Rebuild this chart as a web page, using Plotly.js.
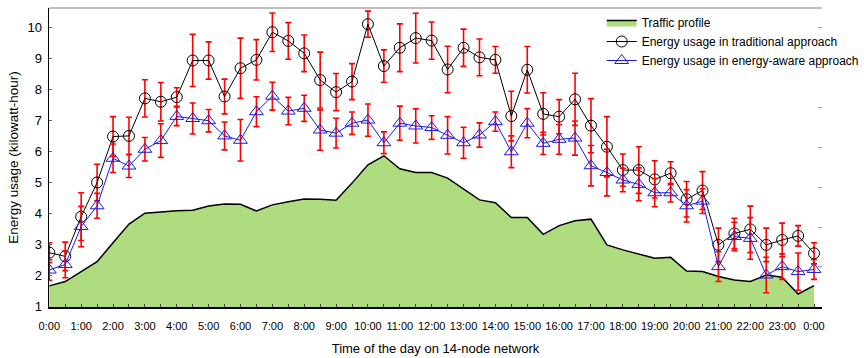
<!DOCTYPE html>
<html>
<head>
<meta charset="utf-8">
<script src="https://cdn.plot.ly/plotly-3.0.1.min.js"></script>
<style>html,body{margin:0;padding:0;background:#fff;}#chart{width:864px;height:358px;}</style>
</head>
<body>
<div id="chart"></div>
<script>
// Time of day (hours), half-hour steps
const timeHours = [0,0.5,1,1.5,2,2.5,3,3.5,4,4.5,5,5.5,6,6.5,7,7.5,8,8.5,9,9.5,10,10.5,11,11.5,12,12.5,13,13.5,14,14.5,15,15.5,16,16.5,17,17.5,18,18.5,19,19.5,20,20.5,21,21.5,22,22.5,23,23.5,24];
const tickLabels = ["0:00","","1:00","","2:00","","3:00","","4:00","","5:00","","6:00","","7:00","","8:00","","9:00","","10:00","","11:00","","12:00","","13:00","","14:00","","15:00","","16:00","","17:00","","18:00","","19:00","","20:00","","21:00","","22:00","","23:00","","0:00"];

// Traffic profile (drawn on the same scale as energy)
const traffic = [1.67,1.81,2.13,2.45,3.06,3.66,4.01,4.06,4.09,4.11,4.24,4.31,4.30,4.08,4.28,4.38,4.47,4.46,4.43,4.98,5.57,5.86,5.44,5.32,5.32,5.14,4.78,4.44,4.35,3.87,3.87,3.33,3.61,3.77,3.82,2.99,2.83,2.70,2.56,2.59,2.15,2.13,1.97,1.86,1.81,2.02,1.95,1.41,1.68];

// Energy usage, traditional approach
const traditional = [2.74,2.62,3.90,5.00,6.48,6.50,7.71,7.60,7.75,8.93,8.93,7.77,8.68,8.95,9.84,9.56,9.16,8.30,7.91,8.25,10.10,8.75,9.34,9.65,9.57,8.64,9.34,9.03,8.95,7.14,8.63,7.21,7.12,7.68,6.83,6.15,5.40,5.40,5.10,5.30,4.46,4.74,2.99,3.36,3.49,2.99,3.15,3.28,2.72];
const traditionalErr = [0.32,0.46,0.77,0.59,0.64,0.60,0.60,0.62,0.30,0.84,0.60,0.56,0.97,0.65,0.62,0.59,0.59,0.90,0.60,0.58,0.42,0.52,0.77,0.80,0.60,0.75,0.60,0.59,0.43,0.80,0.75,0.68,0.55,0.84,0.87,0.97,0.52,0.75,0.60,0.37,0.57,0.61,0.54,0.49,0.75,0.54,0.54,0.33,0.34];

// Energy usage, energy-aware approach
const aware = [2.18,2.36,3.58,4.25,5.78,5.53,6.07,6.35,7.13,7.06,6.99,6.50,6.36,7.28,7.78,7.30,7.39,6.69,6.59,6.91,7.01,6.28,6.91,6.82,6.77,6.52,6.28,6.53,6.96,5.99,6.91,6.26,6.39,6.43,5.54,5.32,5.08,4.94,4.67,4.67,4.25,4.40,2.29,3.26,3.20,2.02,2.29,2.13,2.20];
const awareErr = [0.33,0.43,0.65,0.40,0.46,0.37,0.38,0.54,0.30,0.50,0.36,0.45,0.67,0.48,0.45,0.44,0.42,0.65,0.48,0.36,0.52,0.35,0.55,0.55,0.38,0.60,0.50,0.39,0.31,0.51,0.47,0.36,0.48,0.55,0.65,0.75,0.38,0.53,0.45,0.30,0.52,0.40,0.48,0.46,0.67,0.57,0.41,0.60,0.32];

const yTicks = [1,2,3,4,5,6,7,8,9,10];

const font = '"Liberation Sans", Arial, sans-serif';

const traces = [
  {
    name: 'Traffic profile', x: timeHours, y: traffic, type: 'scatter', mode: 'lines',
    fill: 'tozeroy', fillcolor: 'rgb(176,220,128)',
    line: {color: '#000', width: 1.5}, yaxis: 'y', hoverinfo: 'skip'
  },
  {
    name: 'Energy usage in traditional approach', x: timeHours, y: traditional, type: 'scatter', mode: 'lines+markers',
    line: {color: '#000', width: 1},
    marker: {symbol: 'circle-open', size: 11, color: '#000', line: {width: 1, color: '#000'}},
    error_y: {type: 'data', array: traditionalErr, visible: true, color: '#ff0000', thickness: 1.6, width: 3},
    yaxis: 'y2'
  },
  {
    name: 'Energy usage in energy-aware approach', x: timeHours, y: aware, type: 'scatter', mode: 'lines+markers',
    line: {color: '#1a1ae6', width: 1},
    marker: {symbol: 'triangle-up-open', size: 12, color: '#1a1ae6', line: {width: 1, color: '#1a1ae6'}},
    error_y: {type: 'data', array: awareErr, visible: true, color: '#ff0000', thickness: 1.6, width: 3},
    yaxis: 'y2'
  }
];

const yr = [0.99, 10.62];
const layout = {
  width: 864, height: 358,
  margin: {l: 49, r: 0, t: 8, b: 51},
  paper_bgcolor: '#fff', plot_bgcolor: '#fff',
  showlegend: true,
  legend: {
    x: 0.715, y: 1.0, xanchor: 'left', yanchor: 'top',
    bgcolor: 'rgba(0,0,0,0)', borderwidth: 0,
    font: {family: font, size: 12, color: '#000'},
    tracegroupgap: 0
  },
  xaxis: {
    range: [-0.01, 24.25], tickmode: 'array', tickvals: timeHours, ticktext: tickLabels,
    tickangle: 0,
    ticks: 'inside', ticklen: 3, tickcolor: '#444', tickwidth: 1,
    showline: true, linecolor: '#000', linewidth: 1.5,
    showgrid: false, zeroline: false,
    tickfont: {family: font, size: 11, color: '#000'},
    ticklabelstandoff: 8,
    title: {text: 'Time of the day on 14-node network', font: {family: font, size: 13, color: '#000'}, standoff: 13}
  },
  yaxis: {
    range: yr, tickmode: 'array', tickvals: yTicks,
    ticks: 'inside', ticklen: 3, tickcolor: '#666', tickwidth: 1,
    showline: true, linecolor: '#000', linewidth: 1.5,
    showgrid: false, zeroline: false,
    tickfont: {family: font, size: 13, color: '#000'},
    ticklabelstandoff: 3,
    title: {text: 'Energy usage (kilowatt-hour)', font: {family: font, size: 13.5, color: '#000'}, standoff: 5}
  },
  yaxis2: {
    range: yr, overlaying: 'y', side: 'right',
    tickmode: 'linear', tick0: 1, dtick: 1.283,
    ticks: 'inside', ticklen: 4, tickcolor: '#999', tickwidth: 1,
    showticklabels: false, showline: false, showgrid: false, zeroline: false
  },
  shapes: [
    {type: 'line', xref: 'paper', yref: 'paper', x0: 0, x1: 1, y0: 1, y1: 1, line: {color: '#aaa', width: 1.5}}
  ]
};

Plotly.newPlot('chart', traces, layout, {staticPlot: true, displayModeBar: false});
</script>
</body>
</html>
